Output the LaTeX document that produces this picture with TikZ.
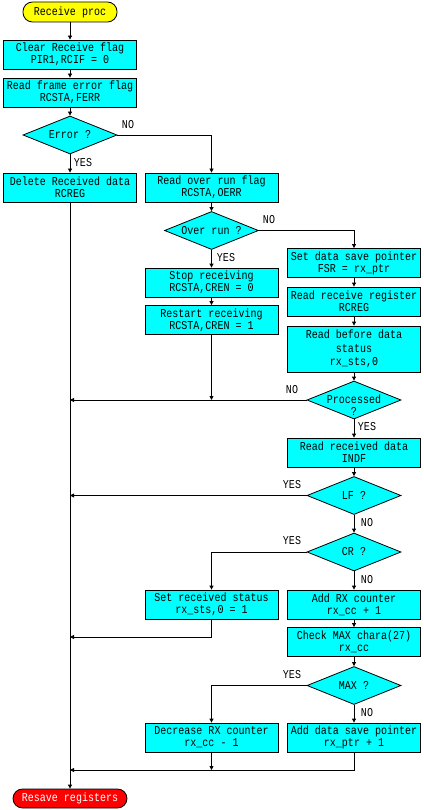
\documentclass[tikz,border=0pt]{standalone}
\usepackage{fontspec}
\setmonofont[FakeStretch=0.835]{Liberation Mono}
\usetikzlibrary{shapes.geometric,arrows.meta}
\definecolor{cyanfill}{RGB}{0,255,255}
\definecolor{yelfill}{RGB}{255,255,0}
\definecolor{redfill}{RGB}{255,0,0}
\begin{document}
\begin{tikzpicture}[x=1pt,y=-1pt,
 line width=0.8pt,
 txt/.style={font=\ttfamily\fontsize{12}{12}\selectfont},
 box/.style={txt,draw,fill=cyanfill,minimum width=133pt,minimum height=29pt,inner sep=0pt,align=center},
 dec/.style={draw,fill=cyanfill,diamond,minimum width=94pt,minimum height=38pt,inner sep=0pt},
 term/.style={txt,draw,rounded corners=9.5pt,minimum height=19pt,inner sep=0pt},
 arr/.style={-{Triangle[length=4pt,width=4pt]}},
 lbl/.style={txt,inner sep=0pt}
]
\useasboundingbox (0,0) rectangle (423,810);
% terminals
\node[term,fill=yelfill,minimum width=94pt,minimum height=20pt] (start) at (70,12) {Receive proc};
\node[term,fill=redfill,text=white,minimum width=114pt] (stop) at (70,798.5) {Resave registers};
% column 1
\node[box] (b1) at (70,54.5) {Clear Receive flag\\PIR1,RCIF = 0};
\node[box] (b2) at (70,92.5) {Read frame error flag\\RCSTA,FERR};
\node[dec,label={[txt]center:Error ?}] (d1) at (70,135) {};
\node[box] (b3) at (70,187.5) {Delete Received data\\RCREG};
% column 2
\node[box] (b4) at (211.5,187.5) {Read over run flag\\RCSTA,OERR};
\node[dec,label={[txt]center:Over run ?}] (d2) at (211.5,230.5) {};
\node[box] (b5) at (211.5,282.5) {Stop receiving\\RCSTA,CREN = 0};
\node[box] (b6) at (211.5,320) {Restart receiving\\RCSTA,CREN = 1};
% column 3
\node[box] (b7) at (354,263) {Set data save pointer\\FSR = rx\_ptr};
\node[box] (b8) at (354,301.5) {Read receive register\\RCREG};
\node[box,minimum height=46pt,font=\ttfamily\fontsize{12}{13.5}\selectfont] (b9) at (354,349) {Read before data\\status\\rx\_sts,0};
\node[dec,label={[txt,align=center,yshift=-5pt]center:Processed\\?}] (d3) at (354,400) {};
\node[box] (b10) at (354,452.5) {Read received data\\INDF};
\node[dec,label={[txt]center:LF ?}] (d4) at (354,495.5) {};
\node[dec,label={[txt]center:CR ?}] (d5) at (354,552) {};
\node[box] (b11) at (211.5,604.5) {Set received status\\rx\_sts,0 = 1};
\node[box] (b12) at (354,604.5) {Add RX counter\\rx\_cc + 1};
\node[box] (b13) at (354,642) {Check MAX chara(27)\\rx\_cc};
\node[dec,label={[txt]center:MAX ?}] (d6) at (354,685.5) {};
\node[box] (b14) at (211.5,737.5) {Decrease RX counter\\rx\_cc - 1};
\node[box] (b15) at (354,737.5) {Add data save pointer\\rx\_ptr + 1};
% junction coordinates
\coordinate (j1) at (211.5,400);
\coordinate (m1) at (70,400);
\coordinate (m2) at (70,495.5);
\coordinate (m3) at (70,637);
\coordinate (m4) at (70,770);
\coordinate (j2) at (211.5,770);
% connectors
\draw[arr] (start) -- (b1);
\draw[arr] (b1) -- (b2);
\draw[arr] (b2) -- (d1);
\draw[arr] (d1) -- (b3);
\draw[arr] (d1.east) -| (b4.north);
\draw[arr] (b4) -- (d2);
\draw[arr] (d2) -- (b5);
\draw[arr] (b5) -- (b6);
\draw[arr] (d2.east) -| (b7.north);
\draw[arr] (b7) -- (b8);
\draw[arr] (b8) -- (b9);
\draw[arr] (b9) -- (d3);
\draw[arr] (b6.south) -- (j1);
\draw[arr] (d3.west) -- (m1);
\draw[arr] (d3) -- (b10);
\draw[arr] (b10) -- (d4);
\draw[arr] (d4.west) -- (m2);
\draw[arr] (d4) -- (d5);
\draw[arr] (d5.west) -| (b11.north);
\draw[arr] (d5) -- (b12);
\draw[arr] (b11.south) |- (m3);
\draw[arr] (b12) -- (b13);
\draw[arr] (b13) -- (d6);
\draw[arr] (d6.west) -| (b14.north);
\draw[arr] (d6) -- (b15);
\draw[arr] (b15.south) |- (m4);
\draw[arr] (b14.south) -- (j2);
\draw[arr] (b3.south) -- (stop.north);
% labels
\node[lbl] (l1) at (128,125) {NO};
\node[lbl] (l2) at (83,163) {YES};
\node[lbl] (l3) at (269,220) {NO};
\node[lbl] (l4) at (226,258) {YES};
\node[lbl] (l5) at (292,390) {NO};
\node[lbl] (l6) at (367,427) {YES};
\node[lbl] (l7) at (292,485) {YES};
\node[lbl] (l8) at (367,523) {NO};
\node[lbl] (l9) at (292,541) {YES};
\node[lbl] (l10) at (367,580) {NO};
\node[lbl] (l11) at (292,675) {YES};
\node[lbl] (l12) at (367,713) {NO};
\end{tikzpicture}
\end{document}
